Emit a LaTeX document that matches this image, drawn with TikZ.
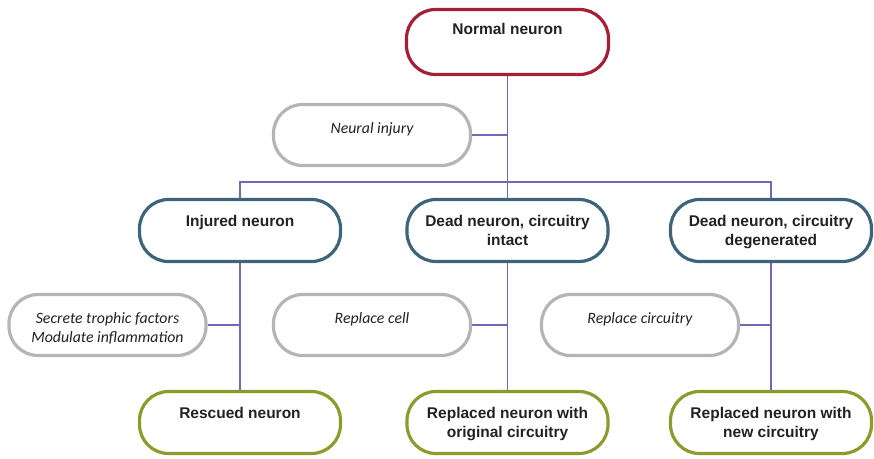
\documentclass[tikz,border=0pt]{standalone}
\usepackage{fontspec}
\setmainfont{Liberation Sans}
\newfontfamily\carl{Carlito}
\usetikzlibrary{backgrounds,calc}
\definecolor{cred}{HTML}{A51F35}
\definecolor{cblue}{HTML}{3E6479}
\definecolor{colive}{HTML}{8D9A2C}
\definecolor{cgray}{HTML}{B5B5B5}
\definecolor{cline}{HTML}{7068B8}
\definecolor{ctext}{HTML}{222222}
\tikzset{
  box/.style={draw, fill=white, line width=3.2pt, rounded corners=29pt, minimum width=201pt, minimum height=62pt, inner sep=0pt},
  gbox/.style={box, draw=cgray, minimum width=197pt, minimum height=61pt},
  lab/.style={anchor=north, inner sep=0pt, align=center, text=ctext, font=\fontsize{15.5}{19}\selectfont\bfseries},
  ilab/.style={anchor=north, inner sep=0pt, align=center, text=ctext, font=\fontsize{15.8}{19}\selectfont\carl\itshape},
  conn/.style={draw=cline, line width=1.2pt}
}
\begin{document}
\begin{tikzpicture}[x=1pt,y=-1pt]
\useasboundingbox (0,0) rectangle (874,458);
% top
\node[box, draw=cred, minimum width=202pt, minimum height=65pt] (nn) at (507.5,42) {};
\node[lab] (nnl) at ($(nn.north)+(0,15)$) {Normal neuron};
\node[gbox] (ni) at (372,135) {};
\node[ilab] (nil) at ($(ni.north)+(0,19)$) {Neural injury};
% middle
\node[box, draw=cblue] (inj) at (240,230.5) {};
\node[box, draw=cblue] (dci) at (507.5,230.5) {};
\node[box, draw=cblue] (dcd) at (771,230.5) {};
\node[lab] at ($(inj.north)+(0,17.5)$) {Injured neuron};
\node[lab] at ($(dci.north)+(0,17.5)$) {Dead neuron, circuitry\\intact};
\node[lab] at ($(dcd.north)+(0,17.5)$) {Dead neuron, circuitry\\degenerated};
% gray row
\node[gbox] (stf) at (107.5,325) {};
\node[gbox] (rc) at (372,325) {};
\node[gbox] (rcir) at (640,325) {};
\node[ilab] at ($(stf.north)+(0,19.5)$) {Secrete trophic factors\\Modulate inflammation};
\node[ilab] at ($(rc.north)+(0,19.5)$) {Replace cell};
\node[ilab] at ($(rcir.north)+(0,19.5)$) {Replace circuitry};
% bottom
\node[box, draw=colive] (res) at (240,422.5) {};
\node[box, draw=colive] (rno) at (507.5,422.5) {};
\node[box, draw=colive] (rnc) at (771,422.5) {};
\node[lab] at ($(res.north)+(0,17.5)$) {Rescued neuron};
\node[lab] at ($(rno.north)+(0,17.5)$) {Replaced neuron with\\original circuitry};
\node[lab] at ($(rnc.north)+(0,17.5)$) {Replaced neuron with\\new circuitry};
% connectors
\coordinate (split) at (507.5,182);
\begin{scope}[on background layer]
\draw[conn] (nn.south) -- (dci.north);
\draw[conn] (inj.north) |- (split) -| (dcd.north);
\draw[conn] (ni.east) -- (ni.east -| nn.south);
\draw[conn] (inj.south) -- (res.north);
\draw[conn] (dci.south) -- (rno.north);
\draw[conn] (dcd.south) -- (rnc.north);
\draw[conn] (stf.east) -- (stf.east -| inj.south);
\draw[conn] (rc.east) -- (rc.east -| dci.south);
\draw[conn] (rcir.east) -- (rcir.east -| dcd.south);
\end{scope}
\end{tikzpicture}
\end{document}
